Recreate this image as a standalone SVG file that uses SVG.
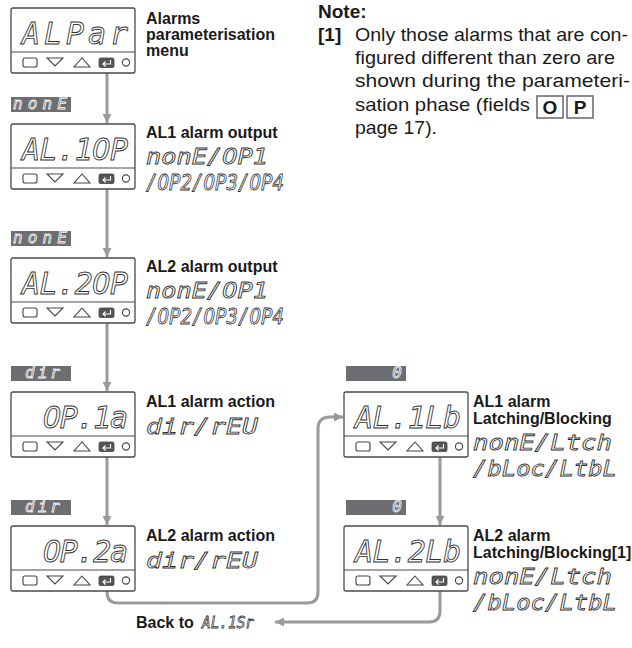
<svg xmlns="http://www.w3.org/2000/svg" width="632" height="648" viewBox="0 0 632 648">
<style>
.box{fill:#fff;stroke:#4a4a4a;stroke-width:1.3}
.div{stroke:#4a4a4a;stroke-width:1.2}
.btn{fill:none;stroke:#444;stroke-width:1.1}
.ent{fill:#555;stroke:#444;stroke-width:0.8}
.eg{fill:none;stroke:#fff;stroke-width:1.1}
.disp{font-family:"DejaVu Sans Mono",monospace;font-style:oblique;font-size:30px;fill:#fff;stroke:#333;stroke-width:0.9}
.seg{font-family:"DejaVu Sans Mono",monospace;font-style:oblique;font-size:21px;fill:#fff;stroke:#333;stroke-width:0.8}
.lab{fill:#6d6e71}
.labt{font-family:"DejaVu Sans Mono",monospace;font-style:oblique;font-size:16px;fill:#6d6e71;stroke:#f2f2f2;stroke-width:0.8}
.t{font-family:"Liberation Sans",Arial,sans-serif;font-weight:bold;font-size:16px;fill:#1a1a1a}
.n{font-family:"Liberation Sans",Arial,sans-serif;font-size:19px;fill:#1a1a1a}
.nb{font-family:"Liberation Sans",Arial,sans-serif;font-size:19px;font-weight:bold;fill:#1a1a1a}
.con{fill:none;stroke:#9a9a9a;stroke-width:3}
</style>
<defs>
<marker id="ah" viewBox="0 0 10 10" refX="10" refY="5" markerWidth="10" markerHeight="9" markerUnits="userSpaceOnUse" orient="auto">
<path d="M0,0 L10,5 L0,10 z" fill="#9a9a9a"/>
</marker>
<g id="keys">
<line class="div" x1="0" y1="44" x2="124" y2="44"/>
<rect class="btn" x="12" y="50" width="14" height="9" rx="2"/>
<polygon class="btn" points="36,50 52,50 44,58"/>
<polygon class="btn" points="63,59 79,59 71,50"/>
<rect class="ent" x="88" y="50" width="15" height="9.5" rx="1.5"/>
<path class="eg" d="M99.5,52 V56 H92 M94.5,53.5 L92,56 L94.5,58.5"/>
<circle class="btn" cx="115" cy="54.5" r="3.6"/>
</g>
</defs>

<g id="connectors">
<path class="con" d="M107,73 V123" marker-end="url(#ah)"/>
<path class="con" d="M107,189 V257" marker-end="url(#ah)"/>
<path class="con" d="M107,323 V391" marker-end="url(#ah)"/>
<path class="con" d="M107,457 V525" marker-end="url(#ah)"/>
<path class="con" d="M107,591 V592 Q107,603 118,603 H307 Q318,603 318,592 V429 Q318,417 330,417 H343" marker-end="url(#ah)"/>
<path class="con" d="M440,457 V525" marker-end="url(#ah)"/>
<path class="con" d="M440,591 V611 Q440,622 429,622 H275" marker-end="url(#ah)"/>
</g>

<g id="node-alpar">
<rect class="box" x="11" y="8" width="124" height="65" rx="2"/>
<use href="#keys" x="11" y="8"/>
<text class="disp" x="128" y="44" text-anchor="end" textLength="106" lengthAdjust="spacing">ALPar</text>
<text class="t" x="146" y="24">Alarms</text>
<text class="t" x="146" y="40">parameterisation</text>
<text class="t" x="146" y="56">menu</text>
</g>

<g id="note">
<text class="nb" x="318" y="18">Note:</text>
<text class="nb" x="318" y="41">[1]</text>
<text class="n" x="355" y="41" textLength="273" lengthAdjust="spacingAndGlyphs">Only those alarms that are con-</text>
<text class="n" x="355" y="64" textLength="260" lengthAdjust="spacingAndGlyphs">figured different than zero are</text>
<text class="n" x="355" y="87" textLength="275" lengthAdjust="spacingAndGlyphs">shown during the parameteri-</text>
<text class="n" x="355" y="111" textLength="175" lengthAdjust="spacingAndGlyphs">sation phase (fields</text>
<rect x="537" y="96" width="26" height="22" fill="#fff" stroke="#666" stroke-width="1.5"/>
<rect x="567" y="96" width="26" height="22" fill="#fff" stroke="#666" stroke-width="1.5"/>
<text class="nb" x="550" y="114" text-anchor="middle">O</text>
<text class="nb" x="580" y="114" text-anchor="middle">P</text>
<text class="n" x="355" y="134" textLength="82" lengthAdjust="spacingAndGlyphs">page 17).</text>
</g>

<g id="node-al1op">
<rect class="lab" x="11" y="97" width="60" height="15"/>
<text class="labt" x="13" y="109" textLength="54" lengthAdjust="spacing">nonE</text>
<rect class="box" x="11" y="124" width="124" height="65" rx="2"/>
<use href="#keys" x="11" y="124"/>
<text class="disp" x="128" y="160" text-anchor="end" textLength="106" lengthAdjust="spacing">AL.1OP</text>
<text class="t" x="146" y="138">AL1 alarm output</text>
<text class="seg" x="146" y="164" textLength="122" lengthAdjust="spacingAndGlyphs">nonE/OP1</text>
<text class="seg" x="146" y="190" textLength="138" lengthAdjust="spacingAndGlyphs">/OP2/OP3/OP4</text>
</g>

<g id="node-al2op">
<rect class="lab" x="11" y="231" width="60" height="15"/>
<text class="labt" x="13" y="243" textLength="54" lengthAdjust="spacing">nonE</text>
<rect class="box" x="11" y="258" width="124" height="65" rx="2"/>
<use href="#keys" x="11" y="258"/>
<text class="disp" x="128" y="294" text-anchor="end" textLength="106" lengthAdjust="spacing">AL.2OP</text>
<text class="t" x="146" y="272">AL2 alarm output</text>
<text class="seg" x="146" y="298" textLength="122" lengthAdjust="spacingAndGlyphs">nonE/OP1</text>
<text class="seg" x="146" y="324" textLength="138" lengthAdjust="spacingAndGlyphs">/OP2/OP3/OP4</text>
</g>

<g id="node-op1a">
<rect class="lab" x="11" y="366" width="60" height="15"/>
<text class="labt" x="25" y="378" letter-spacing="3">dir</text>
<rect class="box" x="11" y="392" width="124" height="65" rx="2"/>
<use href="#keys" x="11" y="392"/>
<text class="disp" x="128" y="428" text-anchor="end" textLength="85" lengthAdjust="spacing">OP.1a</text>
<text class="t" x="146" y="407">AL1 alarm action</text>
<text class="seg" x="146" y="434" textLength="112" lengthAdjust="spacingAndGlyphs">dir/rEU</text>
</g>

<g id="node-op2a">
<rect class="lab" x="11" y="500" width="60" height="15"/>
<text class="labt" x="25" y="512" letter-spacing="3">dir</text>
<rect class="box" x="11" y="526" width="124" height="65" rx="2"/>
<use href="#keys" x="11" y="526"/>
<text class="disp" x="128" y="562" text-anchor="end" textLength="85" lengthAdjust="spacing">OP.2a</text>
<text class="t" x="146" y="541">AL2 alarm action</text>
<text class="seg" x="146" y="568" textLength="112" lengthAdjust="spacingAndGlyphs">dir/rEU</text>
</g>

<g id="node-al1lb">
<rect class="lab" x="346" y="366" width="60" height="15"/>
<text class="labt" x="402" y="378" text-anchor="end">0</text>
<rect class="box" x="344" y="392" width="124" height="65" rx="2"/>
<use href="#keys" x="344" y="392"/>
<text class="disp" x="461" y="428" text-anchor="end" textLength="106" lengthAdjust="spacing">AL.1Lb</text>
<text class="t" x="473" y="407">AL1 alarm</text>
<text class="t" x="473" y="424">Latching/Blocking</text>
<text class="seg" x="473" y="450" textLength="139" lengthAdjust="spacingAndGlyphs">nonE/Ltch</text>
<text class="seg" x="473" y="476" textLength="144" lengthAdjust="spacingAndGlyphs">/bLoc/LtbL</text>
</g>

<g id="node-al2lb">
<rect class="lab" x="346" y="500" width="60" height="15"/>
<text class="labt" x="402" y="512" text-anchor="end">0</text>
<rect class="box" x="344" y="526" width="124" height="65" rx="2"/>
<use href="#keys" x="344" y="526"/>
<text class="disp" x="461" y="562" text-anchor="end" textLength="106" lengthAdjust="spacing">AL.2Lb</text>
<text class="t" x="473" y="541">AL2 alarm</text>
<text class="t" x="473" y="558">Latching/Blocking[1]</text>
<text class="seg" x="473" y="584" textLength="139" lengthAdjust="spacingAndGlyphs">nonE/Ltch</text>
<text class="seg" x="473" y="610" textLength="144" lengthAdjust="spacingAndGlyphs">/bLoc/LtbL</text>
</g>

<g id="back">
<text class="t" x="136" y="628">Back to</text>
<text class="seg" x="202" y="628" textLength="52" lengthAdjust="spacingAndGlyphs" style="font-size:16px">AL.1Sr</text>
</g>
</svg>
